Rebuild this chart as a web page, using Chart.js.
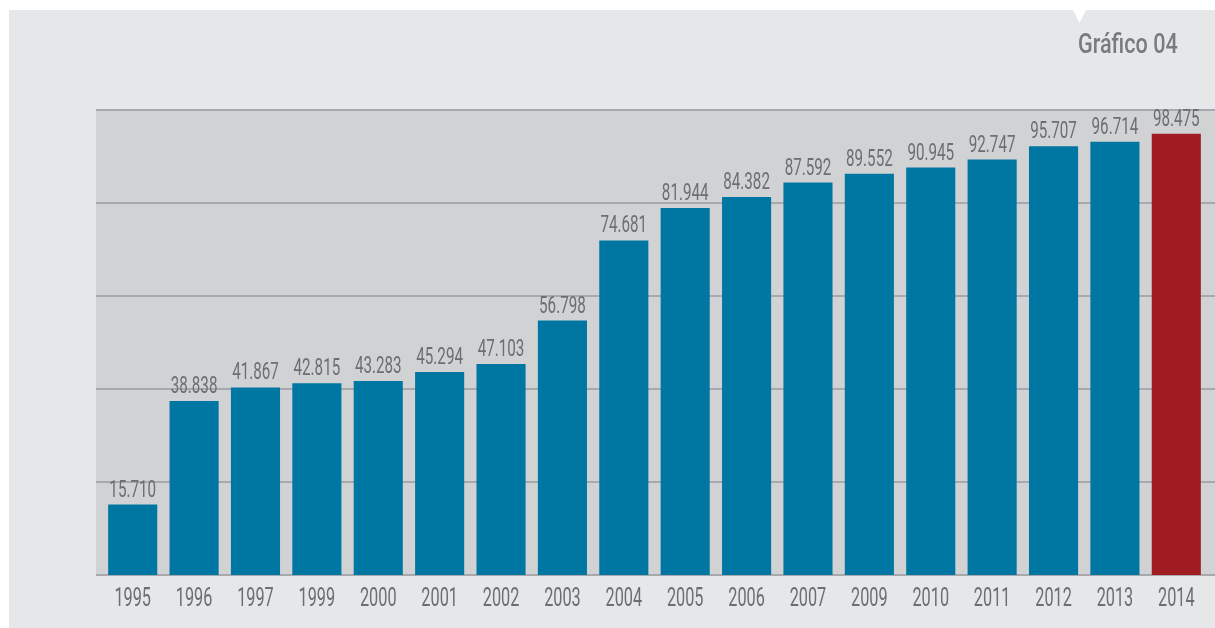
<!DOCTYPE html>
<html>
<head>
<meta charset="utf-8">
<script src="https://cdn.jsdelivr.net/npm/chart.js@4"></script>
<style>
  html, body { margin: 0; padding: 0; background: #ffffff; }
  #wrap { width: 1215px; height: 628px; }
</style>
</head>
<body>
<div id="wrap"><canvas id="grafico"></canvas></div>
<script>
// anos e valores
const anos = ['1995', '1996', '1997', '1999', '2000', '2001', '2002', '2003', '2004',
              '2005', '2006', '2007', '2009', '2010', '2011', '2012', '2013', '2014'];
const valores = [15.710, 38.838, 41.867, 42.815, 43.283, 45.294, 47.103, 56.798, 74.681,
                 81.944, 84.382, 87.592, 89.552, 90.945, 92.747, 95.707, 96.714, 98.475];
const titulo = 'Gráfico 04';
const yMax = 103.8;
const linhas = 5;

const fonte = 'Roboto, "DejaVu Sans Condensed", sans-serif';
const azul = '#0077a3';
const vermelho = '#a11c21';
const cinzaTexto = '#6d6e71';

const cores = valores.map((v, i) => i === valores.length - 1 ? vermelho : azul);

function fmt(v) {
    return v.toFixed(3);
}

// texto estreito: a fonte original é condensada, então comprimimos na horizontal
function textoEstreito(ctx, txt, x, y, sx) {
    ctx.save();
    ctx.translate(x, y);
    ctx.scale(sx, 1);
    ctx.fillText(txt, 0, 0);
    ctx.restore();
}

// fundo do painel, área cinza do gráfico, linhas de grade e título
const fundo = {
    id: 'fundo',
    beforeDraw(chart) {
        const ctx = chart.ctx;
        const area = chart.chartArea;
        const y = chart.scales.y;
        ctx.save();
        ctx.fillStyle = '#ffffff';
        ctx.fillRect(0, 0, chart.width, chart.height);
        ctx.fillStyle = '#e6e7e8';
        ctx.fillRect(9, 10, chart.width - 9, chart.height - 10);
        // pequeno entalhe branco acima do título
        ctx.fillStyle = '#ffffff';
        ctx.beginPath();
        ctx.moveTo(1073, 10);
        ctx.lineTo(1086, 10);
        ctx.lineTo(1079.5, 23);
        ctx.closePath();
        ctx.fill();

        const x0 = area.left - 6;
        ctx.fillStyle = '#d1d2d4';
        ctx.fillRect(x0, area.top, chart.width - x0, area.bottom - area.top);

        ctx.strokeStyle = '#a7a9ac';
        ctx.lineWidth = 2;
        for (let i = 0; i <= linhas; i++) {
            const py = Math.round(y.getPixelForValue(yMax * i / linhas));
            ctx.beginPath();
            ctx.moveTo(x0, py);
            ctx.lineTo(chart.width, py);
            ctx.stroke();
        }

        ctx.fillStyle = '#7a7b7e';
        ctx.font = '500 27px ' + fonte;
        ctx.textAlign = 'left';
        ctx.textBaseline = 'alphabetic';
        textoEstreito(ctx, titulo, 1078, 53, 0.8);
        ctx.restore();
    }
};

// rótulos de valor acima das barras e anos sob o eixo
const rotulos = {
    id: 'rotulos',
    afterDatasetsDraw(chart) {
        const ctx = chart.ctx;
        const meta = chart.getDatasetMeta(0);
        const x = chart.scales.x;
        ctx.save();
        ctx.fillStyle = cinzaTexto;
        ctx.textAlign = 'center';
        ctx.textBaseline = 'alphabetic';
        ctx.font = '23px ' + fonte;
        meta.data.forEach((bar, i) => {
            textoEstreito(ctx, fmt(valores[i]), bar.x, bar.y - 8, 0.66);
        });
        ctx.font = '25px ' + fonte;
        anos.forEach((ano, i) => {
            textoEstreito(ctx, ano, x.getPixelForValue(i), chart.chartArea.bottom + 31, 0.65);
        });
        ctx.restore();
    }
};

new Chart(document.getElementById('grafico'), {
    type: 'bar',
    data: {
        labels: anos,
        datasets: [{
            data: valores,
            backgroundColor: cores,
            borderWidth: 0,
            barPercentage: 0.8,
            categoryPercentage: 1.0
        }]
    },
    options: {
        responsive: true,
        maintainAspectRatio: false,
        animation: false,
        devicePixelRatio: 1,
        layout: { padding: { left: 102, right: 8, top: 110, bottom: 53 } },
        plugins: {
            legend: { display: false },
            tooltip: { enabled: false }
        },
        scales: {
            x: {
                grid: { display: false, drawTicks: false },
                border: { display: false },
                ticks: { display: false }
            },
            y: {
                display: false,
                min: 0,
                max: yMax
            }
        }
    },
    plugins: [fundo, rotulos]
});
</script>
</body>
</html>
